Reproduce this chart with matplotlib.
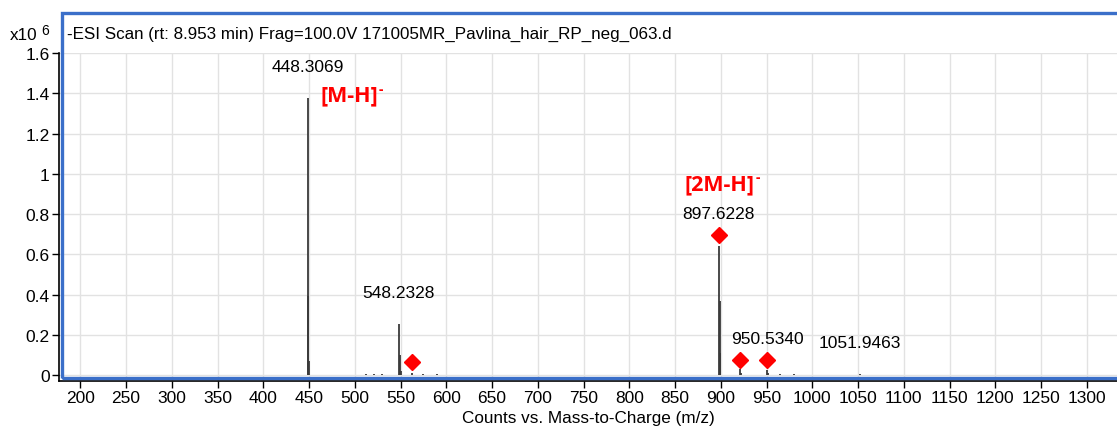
import matplotlib
matplotlib.use("Agg")
import matplotlib.pyplot as plt
from matplotlib.patches import Rectangle
import numpy as np

plt.rcParams['font.family'] = ['Liberation Sans', 'DejaVu Sans']

# spectre (m/z, intensite x10^6)
mz = [448.31, 449.31, 450.31, 512.0, 520.5, 530.2, 548.23, 549.23, 550.23,
      562.0, 575.0, 590.1, 897.62, 898.62, 899.63, 921.0, 922.0, 950.53,
      951.53, 965.0, 980.2, 1010.0, 1051.95, 1060.3]
intens = [1.376, 0.395, 0.07, 0.004, 0.003, 0.004, 0.253, 0.098, 0.022,
          0.008, 0.003, 0.003, 0.642, 0.37, 0.11, 0.028, 0.008, 0.025,
          0.01, 0.004, 0.003, 0.002, 0.004, 0.002]

# etiquettes des pics
lab_mz = [448.3069, 548.2328, 897.6228, 950.5340, 1051.9463]
lab_h = [1.376, 0.253, 0.642, 0.025, 0.004]

# marqueurs rouges
dia_mz = [562.1, 897.6, 921.3, 950.8]
dia_h = [0.063, 0.697, 0.075, 0.075]

W, H = 1117, 431
fig = plt.figure(figsize=(W / 100, H / 100), dpi=100)
ax = fig.add_axes([59.3 / W, 1 - 381.7 / H, (W - 59.3) / W, (381.7 - 54) / H])

ax.vlines(mz, 0, intens, color='#3a3a3a', lw=1.3, zorder=3)
ax.plot(dia_mz, dia_h, 'D', color='red', ms=8, mec='red', zorder=4, ls='none')

for m, h in zip(lab_mz, lab_h):
    ax.annotate(f"{m:.4f}", (m, h), xytext=(0, 23), textcoords='offset points',
                ha='center', va='center', fontsize=12.5)

ax.set_xlim(177.05, 1333.0)
ax.set_ylim(-0.028, 1.6)
ax.set_xticks(np.arange(200, 1301, 50))
ax.set_yticks([0, 0.2, 0.4, 0.6, 0.8, 1, 1.2, 1.4, 1.6])
ax.set_yticklabels(['0', '0.2', '0.4', '0.6', '0.8', '1', '1.2', '1.4', '1.6'])
ax.tick_params(labelsize=12.5, length=5, width=1, pad=2)
ax.grid(True, color='#e2e2e2', lw=1.0)
ax.set_axisbelow(True)
for s in ['top', 'right']:
    ax.spines[s].set_visible(False)
ax.spines['left'].set_linewidth(1.2)
ax.spines['bottom'].set_linewidth(1.2)
ax.set_xlabel('Counts vs. Mass-to-Charge (m/z)', fontsize=12.3, labelpad=3)

# cadre bleu
fig.patches.append(Rectangle((62 / W, 1 - 379 / H), 1.0, (379 - 14) / H,
                             transform=fig.transFigure, fill=False,
                             ec='#3b6fc9', lw=2.4, zorder=5))

fig.text(67 / W, 1 - 34 / H,
         '-ESI Scan (rt: 8.953 min) Frag=100.0V 171005MR_Pavlina_hair_RP_neg_063.d',
         fontsize=12.25, va='center', ha='left')
fig.text(10 / W, 1 - 36 / H, 'x10', fontsize=12.3, va='center', ha='left')
fig.text(41 / W, 1 - 31 / H, '6', fontsize=10, va='center', ha='left')

# annotations rouges
t1 = ax.text(462, 1.39, '[M-H]', color='red', fontsize=15.5, fontweight='bold',
             family='Open Sans', va='center', ha='left')
t2 = ax.text(860.5, 0.95, '[2M-H]', color='red', fontsize=15.5, fontweight='bold',
             family='Open Sans', va='center', ha='left')
fig.canvas.draw()
r = fig.canvas.get_renderer()
for t in [t1, t2]:
    bb = t.get_window_extent(r)
    fig.text((bb.x1 + 1) / W, (bb.y1 - 4) / H, '-', color='red', fontsize=10,
             fontweight='bold', family='Open Sans', va='center', ha='left')

fig.savefig('out.png', dpi=100)
